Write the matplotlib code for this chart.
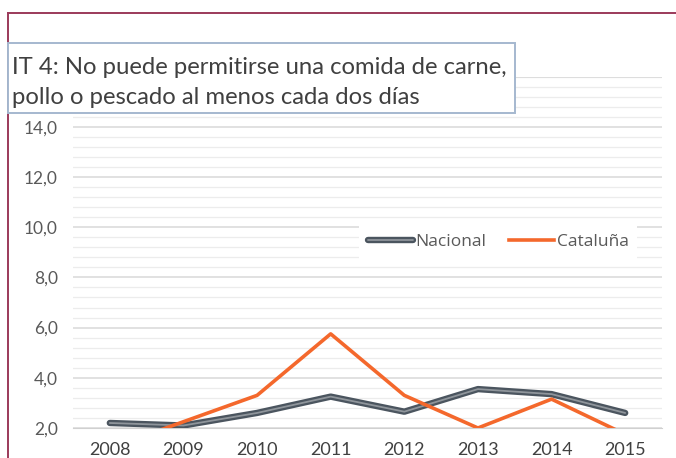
import matplotlib
matplotlib.use("Agg")
import matplotlib.pyplot as plt
import matplotlib.patheffects as pe
from matplotlib.patches import Rectangle
from matplotlib.lines import Line2D
import numpy as np

years = ["2008", "2009", "2010", "2011", "2012", "2013", "2014", "2015"]
nacional = [2.2, 2.1, 2.6, 3.25, 2.65, 3.55, 3.35, 2.6]
cataluna = [1.2, 2.25, 3.3, 5.75, 3.3, 2.0, 3.15, 1.75]
ytick_vals = [2, 4, 6, 8, 10, 12, 14]
title_lines = ["IT 4: No puede permitirse una comida de carne,",
               "pollo o pescado al menos cada dos días"]
series_names = ["Nacional", "Cataluña"]

W, H = 676, 458
fig = plt.figure(figsize=(W / 100, H / 100), dpi=100)
fig.patch.set_facecolor("white")

def fx(px):
    return px / W

def fy(py):
    return 1 - py / H

ax_left, ax_right, ax_top, ax_bottom = 73, 662, 76.6, 428
ax = fig.add_axes([fx(ax_left), fy(ax_bottom), (ax_right - ax_left) / W, (ax_bottom - ax_top) / H])

x = np.arange(len(years))
ax.plot(x, nacional, color="#8f959b", lw=1.3, solid_capstyle="round",
        path_effects=[pe.Stroke(linewidth=4.6, foreground="#4b555f", capstyle="round"), pe.Normal()],
        label=series_names[0], zorder=3)
ax.plot(x, cataluna, color="#f4682c", lw=2.6, label=series_names[1], zorder=4)

ax.set_xlim(-0.5, len(years) - 0.5)
ax.set_ylim(2, 16)
ax.set_xticks(x)
ax.set_xticklabels(years)
ax.set_yticks(ytick_vals)
ax.set_yticklabels([f"{v:.1f}".replace(".", ",") for v in ytick_vals])
ax.set_yticks(np.arange(2, 16.01, 0.4), minor=True)
ax.grid(which="minor", axis="y", color="#ececec", lw=0.9)
ax.grid(which="major", axis="y", color="#d9d9d9", lw=1.1)
ax.axhline(16, color="#d9d9d9", lw=1.1, zorder=1)
ax.tick_params(axis="both", which="both", length=0)
ax.tick_params(axis="y", pad=11, labelsize=12.5, labelcolor="#595959")
ax.tick_params(axis="x", pad=10, labelsize=13, labelcolor="#404040")
for lab in ax.get_xticklabels() + ax.get_yticklabels():
    lab.set_family("Lato")
for s in ["left", "right", "top"]:
    ax.spines[s].set_visible(False)
ax.spines["bottom"].set_color("#d0d0d0")
ax.set_axisbelow(True)
ax.set_facecolor("white")

leg = ax.legend(loc="center", bbox_to_anchor=(fx(498), fy(242)), bbox_transform=fig.transFigure,
                ncol=2, frameon=True, fancybox=False, handlelength=2.6, handletextpad=0.15,
                columnspacing=1.3, prop={"family": "Open Sans", "size": 12.5},
                borderpad=0.5)
leg.get_frame().set_edgecolor("none")
leg.get_frame().set_facecolor("white")
leg.get_frame().set_alpha(1)
for t in leg.get_texts():
    t.set_color("#595959")

# outer frame
fig.add_artist(Line2D([fx(8), fx(676)], [fy(13), fy(13)], color="#9b3a5a", lw=1.4))
fig.add_artist(Line2D([fx(8), fx(8)], [fy(13), fy(460)], color="#9b3a5a", lw=1.4))

# title box
fig.add_artist(Rectangle((fx(8), fy(113)), (515 - 8) / W, (113 - 43) / H,
                         transform=fig.transFigure, facecolor="white",
                         edgecolor="#a5b8cf", lw=1.4, zorder=10))
fig.text(fx(12), fy(67), title_lines[0], family="Lato", fontsize=17.2, color="#404040",
         va="center", ha="left", zorder=11)
fig.text(fx(12), fy(97), title_lines[1], family="Lato", fontsize=17.2, color="#404040",
         va="center", ha="left", zorder=11)

fig.savefig("out.png", dpi=100)
